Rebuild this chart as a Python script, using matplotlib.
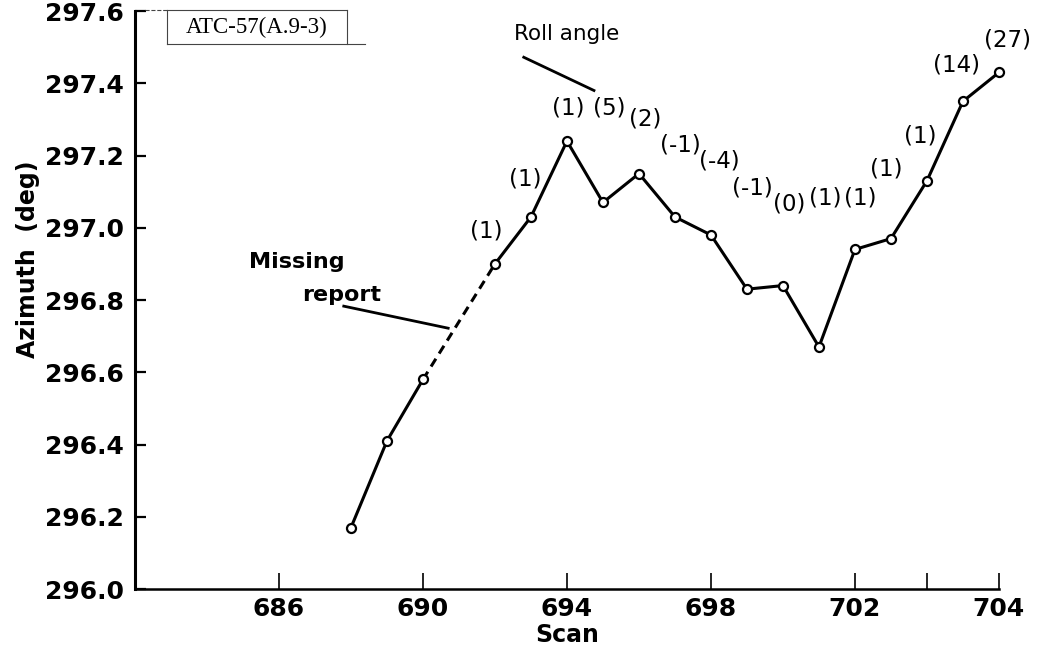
import matplotlib
matplotlib.use("Agg")
import matplotlib.pyplot as plt
from matplotlib.lines import Line2D

# data (scan 691 is the missing report)
scans_before = [688, 689, 690]
azimuth_before = [296.17, 296.41, 296.58]
scans_after = [692, 693, 694, 695, 696, 697, 698, 699, 700, 701, 702, 703, 704, 705, 706]
azimuth_after = [296.90, 297.03, 297.24, 297.07, 297.15, 297.03, 296.98, 296.83, 296.84,
                 296.67, 296.94, 296.97, 297.13, 297.35, 297.43]
roll_angles = ["(1)", "(1)", "(1)", "(5)", "(2)", "(-1)", "(-4)", "(-1)", "(0)",
               "(1)", "(1)", "(1)", "(1)", "(14)", "(27)"]

x_ticks = [686, 690, 694, 698, 702, 704, 706]
x_tick_labels = ["686", "690", "694", "698", "702", "", "704"]
y_ticks = [296.0, 296.2, 296.4, 296.6, 296.8, 297.0, 297.2, 297.4, 297.6]

# label offsets (points) from each marker
roll_offsets = [(-6.5, 24), (-4.3, 27), (0.7, 24), (4.5, 68), (4.3, 39), (3.6, 52), (5.8, 53),
                (3.6, 73), (4.3, 59), (4.3, 107), (3.6, 37), (-3.6, 50), (-5, 32), (-5, 26), (6.5, 23)]

fig = plt.figure(figsize=(10.48, 6.52), dpi=100)
ax = fig.add_axes([0.1288, 0.0966, 0.8244, 0.8865])

line_kw = dict(color="black", lw=2.2, marker="o", ms=6.5, mfc="white", mec="black", mew=1.6,
               clip_on=False, zorder=3)
ax.plot(scans_before, azimuth_before, **line_kw)
ax.plot(scans_after, azimuth_after, **line_kw)
# missing report, dashed
ax.plot([scans_before[-1], scans_after[0]], [azimuth_before[-1], azimuth_after[0]],
        color="black", lw=2.2, ls=(0, (3, 2)), zorder=2)

for x, y, lab, off in zip(scans_after, azimuth_after, roll_angles, roll_offsets):
    ax.annotate(lab, (x, y), xytext=off, textcoords="offset points", ha="center", va="center",
                fontsize=16.5, annotation_clip=False)

ax.set_xlim(682, 706)
ax.set_ylim(296.0, 297.6)
ax.set_xticks(x_ticks)
ax.set_xticklabels(x_tick_labels)
ax.set_yticks(y_ticks)
ax.set_yticklabels([f"{v:.1f}" for v in y_ticks])

for s in ["top", "right"]:
    ax.spines[s].set_visible(False)
ax.spines["left"].set_linewidth(2.2)
ax.spines["bottom"].set_linewidth(1.8)
ax.tick_params(axis="x", direction="in", length=11.5, width=1.2, pad=6, labelsize=18)
ax.tick_params(axis="y", direction="in", length=8, width=1.6, pad=8, labelsize=18)
for t in ax.get_xticklabels() + ax.get_yticklabels():
    t.set_fontweight("bold")

ax.set_xlabel("Scan", fontsize=17, fontweight="bold", labelpad=1)
ax.set_ylabel("Azimuth  (deg)", fontsize=17, fontweight="bold")
ax.yaxis.set_label_coords(-0.11, 0.57)

# annotations
ax.text(694.0, 297.535, "Roll angle", fontsize=15.5, ha="center", va="center")
ax.plot([692.8, 694.75], [297.472, 297.38], color="black", lw=2)
ax.text(686.5, 296.905, "Missing", fontsize=16, fontweight="bold", ha="center", va="center")
ax.text(687.75, 296.813, "report", fontsize=16, fontweight="bold", ha="center", va="center")
ax.plot([687.8, 690.7], [296.783, 296.722], color="black", lw=2)

# reference tag box
fig.text(257 / 1048, 1 - 27 / 652, "ATC-57(A.9-3)", family="Liberation Serif", fontsize=16.5,
         ha="center", va="center")
box = [((167, 10), (347, 10)), ((145, 10), (167, 10)), ((167, 10), (167, 44)),
       ((347, 10), (347, 44)), ((167, 44), (365, 44))]
for (x0, y0), (x1, y1) in box:
    fig.add_artist(Line2D([x0 / 1048, x1 / 1048], [1 - y0 / 652, 1 - y1 / 652],
                          color="#444444", lw=0.8, ls="--" if x0 == 145 else "-"))

fig.savefig("out.png", dpi=100)
